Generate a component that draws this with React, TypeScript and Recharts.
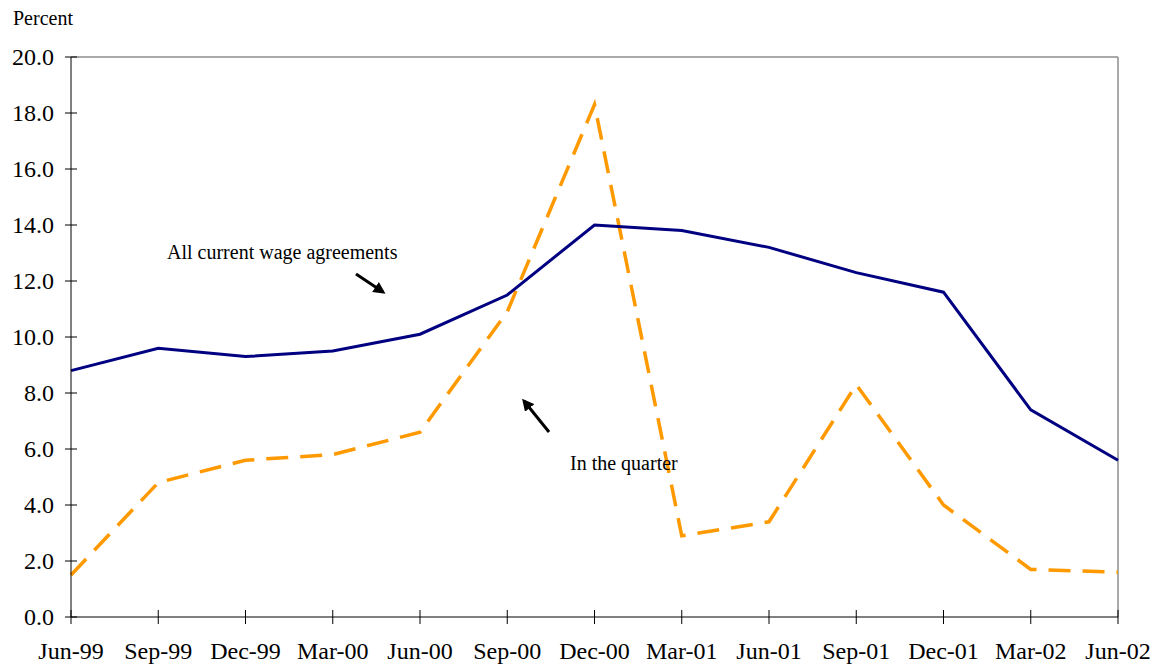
import { LineChart, Line, XAxis, YAxis, ReferenceLine } from 'recharts'

const quarters = [
  'Jun-99', 'Sep-99', 'Dec-99', 'Mar-00', 'Jun-00', 'Sep-00', 'Dec-00',
  'Mar-01', 'Jun-01', 'Sep-01', 'Dec-01', 'Mar-02', 'Jun-02',
]
const allCurrent = [8.8, 9.6, 9.3, 9.5, 10.1, 11.5, 14.0, 13.8, 13.2, 12.3, 11.6, 7.4, 5.6]
const inQuarter = [1.5, 4.8, 5.6, 5.8, 6.6, 10.9, 18.3, 2.9, 3.4, 8.3, 4.0, 1.7, 1.6]
const yTicks = [0, 2, 4, 6, 8, 10, 12, 14, 16, 18, 20]

const data = quarters.map((q, i) => ({ q, all: allCurrent[i], quarter: inQuarter[i] }))

const FONT = '"Liberation Serif", "Times New Roman", serif'

// eslint-disable-next-line @typescript-eslint/no-explicit-any
const YTick = ({ x, y, payload }: any) => (
  <g>
    <line x1={x - 6} x2={x + 6} y1={y} y2={y} stroke="#000" strokeWidth={1} />
    <text x={x - 17} y={y} dy={8} textAnchor="end" fontSize={24} fontFamily={FONT} fill="#000">
      {payload.value.toFixed(1)}
    </text>
  </g>
)

// eslint-disable-next-line @typescript-eslint/no-explicit-any
const XTick = ({ x, y, payload }: any) => (
  <g>
    <line x1={x} x2={x} y1={y - 7} y2={y + 7} stroke="#000" strokeWidth={1} />
    <text x={x} y={y} dy={42} textAnchor="middle" fontSize={24} fontFamily={FONT} fill="#000">
      {payload.value}
    </text>
  </g>
)

export default function App() {
  return (
    <div style={{ position: 'absolute', left: 0, top: 0, width: 1162, height: 664, background: '#fff' }}>
      <LineChart
        width={1162}
        height={664}
        data={data}
        margin={{ top: 57, right: 44, bottom: 0, left: 0 }}
      >
        <ReferenceLine y={20} stroke="#8c8c8c" strokeWidth={1.5} />
        <ReferenceLine x="Jun-02" stroke="#8c8c8c" strokeWidth={1.5} />
        <XAxis
          dataKey="q"
          height={47}
          tickLine={false}
          tickSize={0}
          tickMargin={0}
          interval={0}
          axisLine={{ stroke: '#000' }}
          tick={<XTick />}
        />
        <YAxis
          width={71}
          domain={[0, 20]}
          ticks={yTicks}
          tickLine={false}
          tickSize={0}
          tickMargin={0}
          axisLine={{ stroke: '#000' }}
          tick={<YTick />}
        />
        <Line
          dataKey="quarter"
          type="linear"
          stroke="#ff9900"
          strokeWidth={3.5}
          strokeDasharray="22 12"
          dot={false}
          isAnimationActive={false}
        />
        <Line
          dataKey="all"
          type="linear"
          stroke="#000080"
          strokeWidth={3}
          dot={false}
          isAnimationActive={false}
        />
      </LineChart>
      <svg
        width={1162}
        height={664}
        style={{ position: 'absolute', left: 0, top: 0, pointerEvents: 'none' }}
      >
        <defs>
          <marker id="head" markerWidth="4" markerHeight="4" refX="3" refY="2" orient="auto">
            <path d="M0,0 L4,2 L0,4 z" fill="#000" />
          </marker>
        </defs>
        <text x={13} y={25} fontSize={20} fontFamily={FONT} fill="#000">Percent</text>
        <text x={167} y={259} fontSize={20} fontFamily={FONT} fill="#000">All current wage agreements</text>
        <text x={570} y={470} fontSize={20} fontFamily={FONT} fill="#000">In the quarter</text>
        <line x1={356} y1={274} x2={383} y2={292} stroke="#000" strokeWidth={3} markerEnd="url(#head)" />
        <line x1={549} y1={432} x2={524} y2={401} stroke="#000" strokeWidth={3} markerEnd="url(#head)" />
      </svg>
    </div>
  )
}
